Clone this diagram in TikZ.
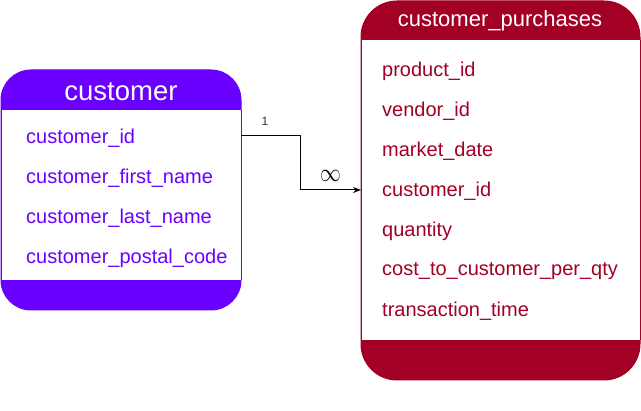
\documentclass[tikz,border=0pt]{standalone}
\usepackage{fontspec}
\setmainfont{Liberation Sans}
\usetikzlibrary{arrows.meta}
\definecolor{purp}{HTML}{6A00FF}
\definecolor{wine}{HTML}{A20025}
\begin{document}
\begin{tikzpicture}[x=1pt,y=-1pt,
  fieldA/.style={anchor=west,inner sep=0pt,text=purp,font=\fontsize{20}{24}\selectfont},
  fieldB/.style={anchor=west,inner sep=0pt,text=wine,font=\fontsize{20}{24}\selectfont},
  head/.style={text=white,inner sep=0pt},
  tbl/.style={line width=1pt}]
\useasboundingbox (0,0) rectangle (641,411);
% customer table
\node[tbl,rounded corners=30pt,draw=purp,fill=purp,minimum width=240pt,minimum height=240pt] (cust) at (121,190) {};
\fill[white] (1.5,110) rectangle (240.5,280);
\draw[purp,line width=1pt] (1,110) -- (1,280) (241,110) -- (241,280);
\node[head,font=\fontsize{27.5}{30}\selectfont] (custh) at (121,92) {customer};
\node[fieldA] (c1) at (26,138) {customer\_id};
\node[fieldA] (c2) at (26,178) {customer\_first\_name};
\node[fieldA] (c3) at (26,218) {customer\_last\_name};
\node[fieldA] (c4) at (26,258) {customer\_postal\_code};
% purchases table
\node[tbl,rounded corners=36pt,draw=wine,fill=wine,minimum width=279pt,minimum height=379pt] (purch) at (500.5,190.5) {};
\fill[white] (361.5,40) rectangle (639.5,340);
\draw[wine,line width=1pt] (361,40) -- (361,340) (640,40) -- (640,340);
\node[head,font=\fontsize{22}{26}\selectfont] (purchh) at (500,21) {customer\_purchases};
\node[fieldB] (p1) at (382,71) {product\_id};
\node[fieldB] (p2) at (382,111) {vendor\_id};
\node[fieldB] (p3) at (382,151) {market\_date};
\node[fieldB] (p4) at (382,191) {customer\_id};
\node[fieldB] (p5) at (382,231) {quantity};
\node[fieldB] (p6) at (382,271) {cost\_to\_customer\_per\_qty};
\node[fieldB] (p7) at (382,311) {transaction\_time};
% connector
\coordinate (s) at (241,136);
\coordinate (e) at (361,190);
\draw[line width=1pt,-{Stealth[length=8pt,width=6pt]}] (s) -- (300,136) -- (300,190) -- (e);
\node[font=\fontsize{12}{14}\selectfont,text=black!80] (one) at (265,121) {1};
\node[inner sep=0pt,yscale=1.25] (many) at (330.5,175.5) {\fontsize{21}{24}\selectfont$\infty$};
\end{tikzpicture}
\end{document}
